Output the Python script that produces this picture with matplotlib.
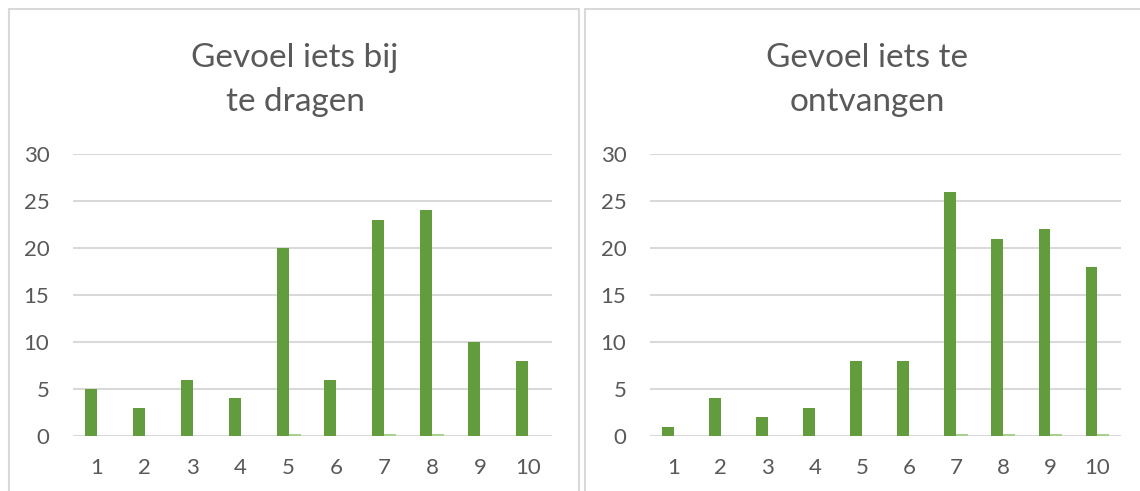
import matplotlib.pyplot as plt
import numpy as np
from matplotlib.patches import Rectangle

# Scores 1-10, number of answers per score
scores = ['1', '2', '3', '4', '5', '6', '7', '8', '9', '10']

bijdragen_main = [5, 3, 6, 4, 20, 6, 23, 24, 10, 8]
bijdragen_extra = [0, 0, 0, 0, 0.2, 0, 0.2, 0.2, 0, 0]

ontvangen_main = [1, 4, 2, 3, 8, 8, 26, 21, 22, 18]
ontvangen_extra = [0, 0, 0, 0, 0, 0, 0.2, 0.2, 0.2, 0.2]

titles = [['Gevoel iets bij', 'te dragen'], ['Gevoel iets te', 'ontvangen']]

DARK = '#629c3c'
LIGHT = '#a9d18e'
GRID = '#d9d9d9'
TEXT = '#595959'
FONT = 'Lato'

W, H = 1140, 491
fig = plt.figure(figsize=(W / 100, H / 100), dpi=100)


def px(x0, y0, x1, y1):
    # pixel box (top-left origin) -> figure fraction [left, bottom, width, height]
    return [x0 / W, 1 - y1 / H, (x1 - x0) / W, (y1 - y0) / H]


# chart frames
for (x0, y0, x1, y1) in [(9, 9, 579, 500), (585, 9, 1160, 500)]:
    fig.add_artist(Rectangle((x0 / W, 1 - y1 / H), (x1 - x0) / W, (y1 - y0) / H,
                             transform=fig.transFigure, fill=False,
                             edgecolor=GRID, linewidth=1.5, clip_on=False))

panels = [
    (px(73, 154, 552, 436), bijdragen_main, bijdragen_extra, titles[0], 295),
    (px(650, 154, 1121, 436), ontvangen_main, ontvangen_extra, titles[1], 867),
]

x = np.arange(len(scores))
bw = 1 / 4

for box, main, extra, title, cx in panels:
    ax = fig.add_axes(box)
    ax.bar(x - bw / 2, main, bw, color=DARK, zorder=3)
    ax.bar(x + bw / 2, extra, bw, color=LIGHT, zorder=3)

    ax.set_xlim(-0.5, len(scores) - 0.5)
    ax.set_ylim(0, 30)
    ax.set_yticks(range(0, 31, 5))
    ax.set_xticks(x)
    ax.set_xticklabels(scores)
    ax.grid(True, axis='y', color=GRID, linewidth=1.5, zorder=0)
    for s in ax.spines.values():
        s.set_visible(False)
    ax.tick_params(length=0, labelsize=16, labelcolor=TEXT)
    ax.tick_params(axis='y', pad=17)
    ax.tick_params(axis='x', pad=16)
    for lab in ax.get_xticklabels() + ax.get_yticklabels():
        lab.set_fontfamily(FONT)

    # two-line chart title
    for i, line in enumerate(title):
        fig.text(cx / W, 1 - (67 + 44 * i) / H, line, ha='center', va='baseline',
                 fontsize=24, color=TEXT, family=FONT)

fig.savefig('out.png', dpi=100)
